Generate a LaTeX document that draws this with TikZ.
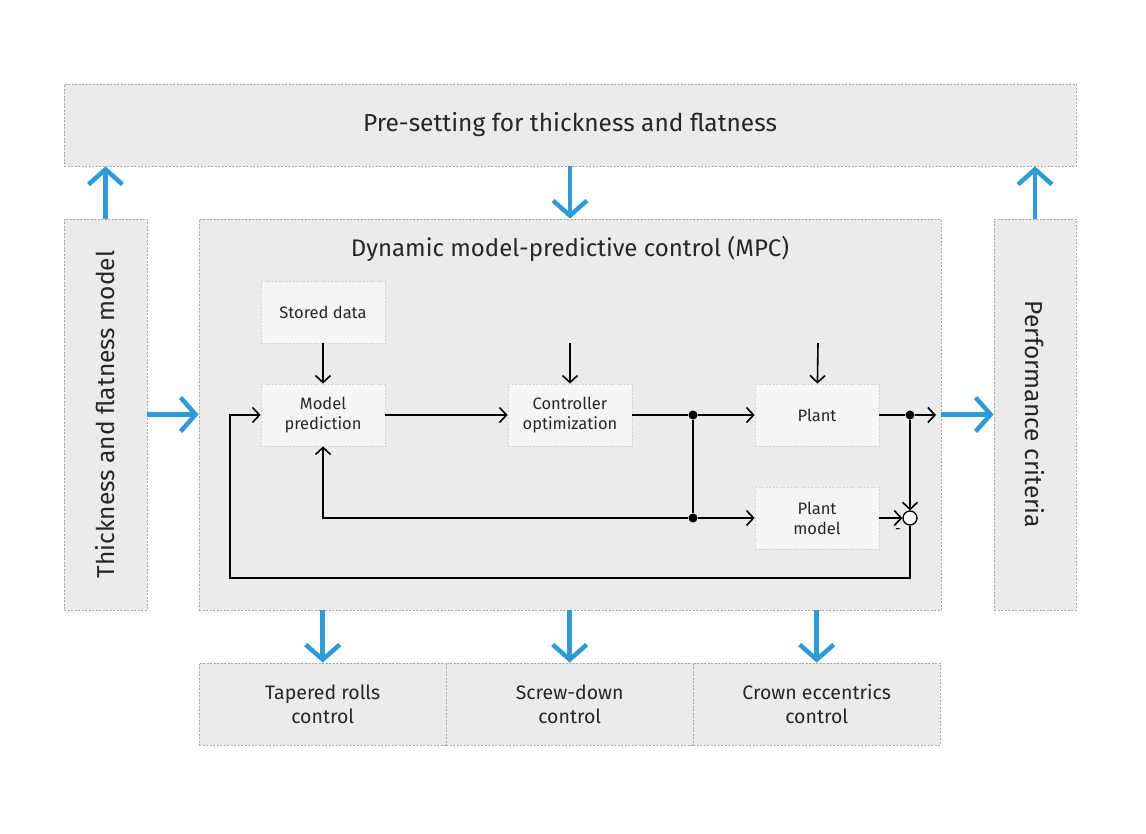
\documentclass[tikz,border=0pt]{standalone}
\usepackage{fontspec}
\setmainfont{Fira Sans}
\usetikzlibrary{arrows.meta,positioning}
\definecolor{boxgray}{HTML}{EBEBEB}
\definecolor{edgegray}{HTML}{A8A8A8}
\definecolor{inboxgray}{HTML}{F5F5F5}
\definecolor{inedge}{HTML}{D2D2D2}
\definecolor{mpcblue}{HTML}{2E9BD6}
\begin{document}
\begin{tikzpicture}[x=1pt,y=-1pt,->,>={Straight Barb[length=7pt,width=15pt]},
                    node distance=247pt,line width=1.6pt]
  \tikzstyle{bigbox}=[fill=boxgray,draw=edgegray,dash pattern=on 2pt off 1.5pt,
                      line width=0.8pt,inner sep=0pt,align=center,text=black!85]
  \tikzstyle{inbox}=[fill=inboxgray,draw=inedge,dash pattern=on 2pt off 1.5pt,
                     line width=0.8pt,minimum width=124pt,minimum height=62pt,
                     align=center,text=black!85,font=\fontsize{16.5}{20}\selectfont]
  \tikzstyle{bluearrow}=[draw=mpcblue,line width=4.5pt,
                         -{Straight Barb[length=15pt,width=34pt]}]
  \tikzstyle{dot}=[circle,fill=black,inner sep=0pt,minimum size=9pt]
  \useasboundingbox (0,0) rectangle (1146,833);

  % outer blocks
  \node[bigbox,minimum width=1012pt,minimum height=82pt,
        font=\fontsize{24.5}{28}\selectfont] (PRESET) at (570,125)
        {Pre-setting for thickness and flatness};
  \node[bigbox,minimum width=83pt,minimum height=391pt] (TFM) at (105.5,414.5) {};
  \node[rotate=90,font=\fontsize{24.5}{28}\selectfont,text=black!85] at (TFM.center)
        {Thickness and flatness model};
  \node[bigbox,minimum width=742pt,minimum height=391pt] (MPC) at (570,414.5) {};
  \node[font=\fontsize{24}{28}\selectfont,text=black!85] (MPCT) at (570,249)
        {Dynamic model-predictive control (MPC)};
  \node[bigbox,minimum width=82pt,minimum height=391pt] (PERF) at (1035,414.5) {};
  \node[rotate=-90,font=\fontsize{24.5}{28}\selectfont,text=black!85] at (PERF.center)
        {Performance criteria};

  % actuators
  \tikzstyle{actbox}=[bigbox,minimum width=247.3pt,minimum height=82pt,
                      font=\fontsize{19.5}{24}\selectfont]
  \node[actbox] (TAPER) at (322.7,704) {Tapered rolls\\control};
  \node[actbox] (SCREW) [right of=TAPER] {Screw-down\\control};
  \node[actbox] (CROWN) [right of=SCREW] {Crown eccentrics\\control};

  % inner loop
  \node[inbox] (MP) at (323,415) {Model\\prediction};
  \node[inbox] (SD) [above of=MP,node distance=103pt] {Stored data};
  \node[inbox] (CO) [right of=MP] {Controller\\optimization};
  \node[inbox] (PL) [right of=CO] {Plant};
  \node[inbox] (PM) [below of=PL,node distance=103pt] {Plant\\model};

  \node[dot] (J1) at (693,415) {};
  \node[dot] (J2) at (693,518) {};
  \node[dot] (J3) at (910,415) {};
  \node[circle,draw,fill=white,line width=1.3pt,inner sep=0pt,minimum size=14pt]
        (SUM) at (910,518) {};
  \node[font=\fontsize{14}{14}\selectfont] at (898,531) {-};

  \coordinate (COIN) at (570,343);
  \coordinate (PLIN) at (818,343);
  \coordinate (OUT) at (936,415);
  \coordinate (FB1) at (910,578);
  \coordinate (FB2) at (230,578);
  \coordinate (FB3) at (230,415);
  \coordinate (FB4) at (323,518);

  \draw (SD) -- (MP);
  \draw (COIN) -- (CO);
  \draw (PLIN) -- (PL);
  \draw (MP) -- (CO);
  \draw[-] (CO) -- (J1);
  \draw (J1) -- (PL);
  \draw[-] (J1) -- (J2);
  \draw (J2) -- (PM);
  \draw[-] (PL) -- (J3);
  \draw (J3) -- (OUT);
  \draw (J3) -- (SUM);
  \draw (PM) -- (SUM);
  \draw (J2) -- (FB4) -- (MP);
  \draw (SUM) -- (FB1) -- (FB2) -- (FB3) -- (MP);

  % blue flows
  \draw[bluearrow] (TFM.north) -- (TFM.north |- PRESET.south);
  \draw[bluearrow] (PRESET.south -| MPC.north) -- (MPC.north);
  \draw[bluearrow] (PERF.north) -- (PERF.north |- PRESET.south);
  \draw[bluearrow] (TFM.east) -- (MPC.west);
  \draw[bluearrow] (MPC.east) -- (PERF.west);
  \draw[bluearrow] (MPC.south -| TAPER.north) -- (TAPER.north);
  \draw[bluearrow] (MPC.south -| SCREW.north) -- (SCREW.north);
  \draw[bluearrow] (MPC.south -| CROWN.north) -- (CROWN.north);
\end{tikzpicture}
\end{document}
